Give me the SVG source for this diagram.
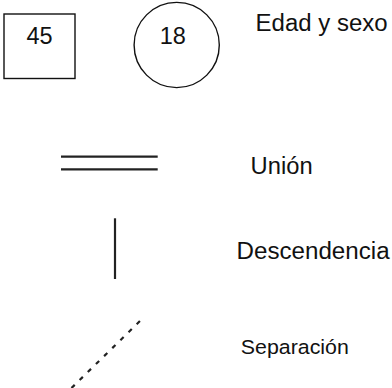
<svg xmlns="http://www.w3.org/2000/svg" width="392" height="388" viewBox="0 0 392 388">
<style>
.lbl{font-family:"Liberation Sans",Arial,sans-serif;fill:#111}
.shape{fill:none;stroke:#111;stroke-width:1.4}
.ln{stroke:#222;stroke-width:2.2;fill:none}
</style>
<rect width="392" height="388" fill="#fff"/>
<g id="node-square">
<rect class="shape" x="4" y="14" width="71" height="64.5"/>
<text class="lbl" x="39.5" y="44.3" font-size="23.5" text-anchor="middle">45</text>
</g>
<g id="node-circle">
<circle class="shape" cx="176.7" cy="45" r="42.6"/>
<text class="lbl" x="172.8" y="44.3" font-size="23.5" text-anchor="middle">18</text>
</g>
<g id="label-edad">
<text class="lbl" x="255.6" y="30.7" font-size="23.5" textLength="132" lengthAdjust="spacingAndGlyphs">Edad y sexo</text>
</g>
<g id="connectors">
<line class="ln" x1="61" y1="156.7" x2="157.7" y2="156.7"/>
<line class="ln" x1="61" y1="169.3" x2="157.7" y2="169.3"/>
<line class="ln" x1="115" y1="218.3" x2="115" y2="279"/>
<line class="ln" x1="71.5" y1="388" x2="140.5" y2="320.5" stroke-width="2.8" stroke-dasharray="4.5 6.9"/>
</g>
<g id="label-union">
<text class="lbl" x="250.6" y="174.3" font-size="23.5" textLength="62" lengthAdjust="spacingAndGlyphs">Unión</text>
</g>
<g id="label-descendencia">
<text class="lbl" x="236.6" y="259.3" font-size="23.5" textLength="153" lengthAdjust="spacingAndGlyphs">Descendencia</text>
</g>
<g id="label-separacion">
<text class="lbl" x="240.8" y="354" font-size="20.5" textLength="108" lengthAdjust="spacingAndGlyphs">Separación</text>
</g>
</svg>
